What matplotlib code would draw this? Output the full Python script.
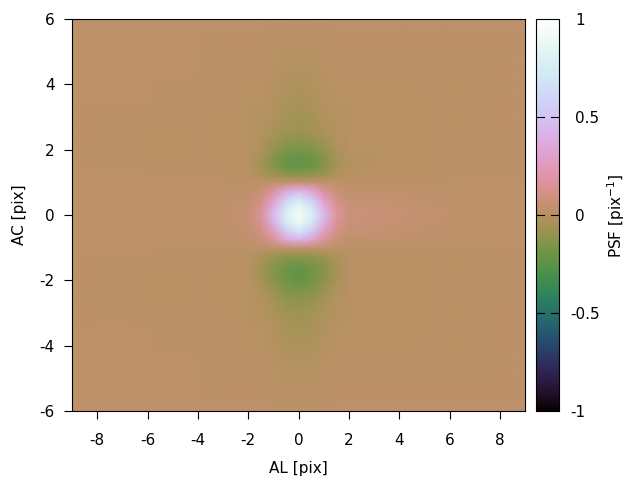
import numpy as np
import matplotlib
matplotlib.use("Agg")
import matplotlib.pyplot as plt
from matplotlib.colors import LinearSegmentedColormap
from matplotlib import _cm

plt.rcParams["axes.unicode_minus"] = False
plt.rcParams["mathtext.default"] = "regular"

al = [-9, -6, -4, -3, -2, -1.5, -1, -0.5, 0, 0.5, 1, 1.5, 2, 3, 4, 6, 9]
ac = [-6, -4.5, -3.5, -3, -2.5, -2, -1.75, -1.5, -1.25, -1, -0.75, -0.5, -0.25,
      0, 0.25, 0.5, 0.75, 1, 1.25, 1.5, 1.75, 2, 2.5, 3, 3.5, 4.5, 6]
psf = [
 [.02,.02,.02,.02,.02,.02,.02,.02,.02,.02,.02,.02,.02,.02,.02,.02,.02],
 [.02,.02,.02,.01,.01,.01,.00,-.01,-.01,-.01,.00,.01,.01,.01,.01,.01,.02],
 [.02,.02,.01,.01,.00,.00,-.02,-.04,-.05,-.04,-.02,.00,.00,.00,.00,.01,.02],
 [.02,.01,.01,.00,.00,-.01,-.03,-.06,-.07,-.06,-.03,-.01,.00,.00,.00,.01,.02],
 [.02,.01,.01,.00,.00,-.02,-.06,-.11,-.13,-.11,-.06,-.02,.00,.00,.00,.01,.02],
 [.02,.01,.01,.00,.00,-.04,-.12,-.18,-.22,-.18,-.12,-.04,.00,.00,.00,.01,.02],
 [.02,.01,.01,.00,.00,-.05,-.13,-.20,-.24,-.20,-.13,-.05,.00,.00,.00,.01,.02],
 [.02,.01,.01,.00,.00,-.05,-.12,-.17,-.20,-.17,-.12,-.05,.00,.00,.00,.01,.02],
 [.02,.02,.01,.01,.00,-.03,-.07,-.10,-.11,-.10,-.07,-.03,.00,.00,.00,.01,.02],
 [.02,.02,.02,.02,.02,.02,.03,.04,.05,.04,.03,.03,.02,.02,.02,.02,.02],
 [.02,.02,.02,.02,.03,.05,.16,.33,.41,.33,.16,.06,.03,.03,.03,.02,.02],
 [.02,.02,.02,.02,.04,.09,.27,.54,.70,.54,.28,.11,.05,.05,.04,.03,.02],
 [.02,.02,.02,.03,.05,.13,.38,.70,.87,.70,.39,.15,.07,.06,.05,.03,.02],
 [.02,.02,.03,.03,.05,.16,.45,.78,.94,.78,.46,.18,.08,.07,.06,.035,.02],
 [.02,.02,.02,.03,.05,.13,.38,.70,.87,.70,.39,.15,.07,.06,.05,.03,.02],
 [.02,.02,.02,.02,.04,.09,.27,.54,.70,.54,.28,.11,.05,.05,.04,.03,.02],
 [.02,.02,.02,.02,.03,.05,.16,.33,.41,.33,.16,.06,.03,.03,.03,.02,.02],
 [.02,.02,.02,.02,.02,.02,.03,.04,.05,.04,.03,.03,.02,.02,.02,.02,.02],
 [.02,.02,.01,.01,.00,-.03,-.08,-.11,-.12,-.11,-.08,-.03,.00,.00,.00,.01,.02],
 [.02,.01,.01,.00,.00,-.05,-.14,-.20,-.23,-.20,-.14,-.05,-.01,.00,.00,.01,.02],
 [.02,.01,.01,.00,.00,-.05,-.14,-.20,-.23,-.20,-.14,-.05,-.01,.00,.00,.01,.02],
 [.02,.01,.01,.00,.00,-.03,-.10,-.15,-.17,-.15,-.10,-.03,.00,.00,.00,.01,.02],
 [.02,.01,.01,.00,.00,-.01,-.04,-.07,-.08,-.07,-.04,-.01,.00,.00,.00,.01,.02],
 [.02,.01,.01,.00,.00,-.01,-.02,-.05,-.06,-.05,-.02,-.01,.00,.00,.00,.01,.02],
 [.02,.02,.01,.01,.00,.00,-.01,-.03,-.04,-.03,-.01,.00,.00,.00,.00,.01,.02],
 [.02,.02,.02,.01,.01,.01,.00,-.01,-.01,-.01,.00,.01,.01,.01,.01,.01,.02],
 [.02,.02,.02,.02,.02,.02,.02,.02,.02,.02,.02,.02,.02,.02,.02,.02,.02],
]
bar_levels = np.linspace(-1, 1, 256)
xticks = [-8, -6, -4, -2, 0, 2, 4, 6, 8]
yticks = [-6, -4, -2, 0, 2, 4, 6]
cticks = [-1, -0.5, 0, 0.5, 1]
clabels = ["-1", "-0.5", "0", "0.5", "1"]

cmap = LinearSegmentedColormap("psf_helix", _cm.cubehelix(gamma=0.75, s=0.5, r=-1.5, h=1.0), N=256)

W, H = 640, 480
fig = plt.figure(figsize=(6.4, 4.8), dpi=100)
ax = fig.add_axes([72/W, 1-411/H, 453/W, 392/H])
cax = fig.add_axes([536/W, 1-411/H, 23/W, 392/H])

ax.pcolormesh(al, ac, np.array(psf), cmap=cmap, vmin=-1, vmax=1,
              shading="gouraud", rasterized=True)
ax.set_xlim(-9, 9)
ax.set_ylim(-6, 6)
ax.set_xticks(xticks)
ax.set_yticks(yticks)
ax.tick_params(direction="out", length=5.5, width=0.8, labelsize=11)
ax.tick_params(axis="x", pad=10)
ax.tick_params(axis="y", pad=7)
ax.set_xlabel("AL [pix]", fontsize=11, labelpad=10)
ax.set_ylabel("AC [pix]", fontsize=11, labelpad=9)

cax.imshow(bar_levels[:, None], origin="lower", aspect="auto",
           cmap=cmap, vmin=-1, vmax=1, extent=[0, 1, -1, 1])
cax.set_xticks([])
cax.yaxis.tick_right()
cax.set_yticks(cticks)
cax.set_yticklabels(clabels)
cax.tick_params(axis="y", direction="in", length=0, labelsize=11)
for tick, v in zip(cax.yaxis.get_major_ticks(), cticks):
    tick.set_pad(8 if v < 0 else 11.5)
for v in cticks[1:-1]:
    cax.plot([0, 0.36], [v, v], color="k", lw=0.8)
    cax.plot([0.64, 1], [v, v], color="k", lw=0.8)
cax.set_xlim(0, 1)
cax.set_ylim(-1, 1)
fig.text(616/W, 1-216/H, "PSF [pix$^{-1}$]", fontsize=11, rotation=90, ha="center", va="center")
fig.savefig("out.png", dpi=100)
